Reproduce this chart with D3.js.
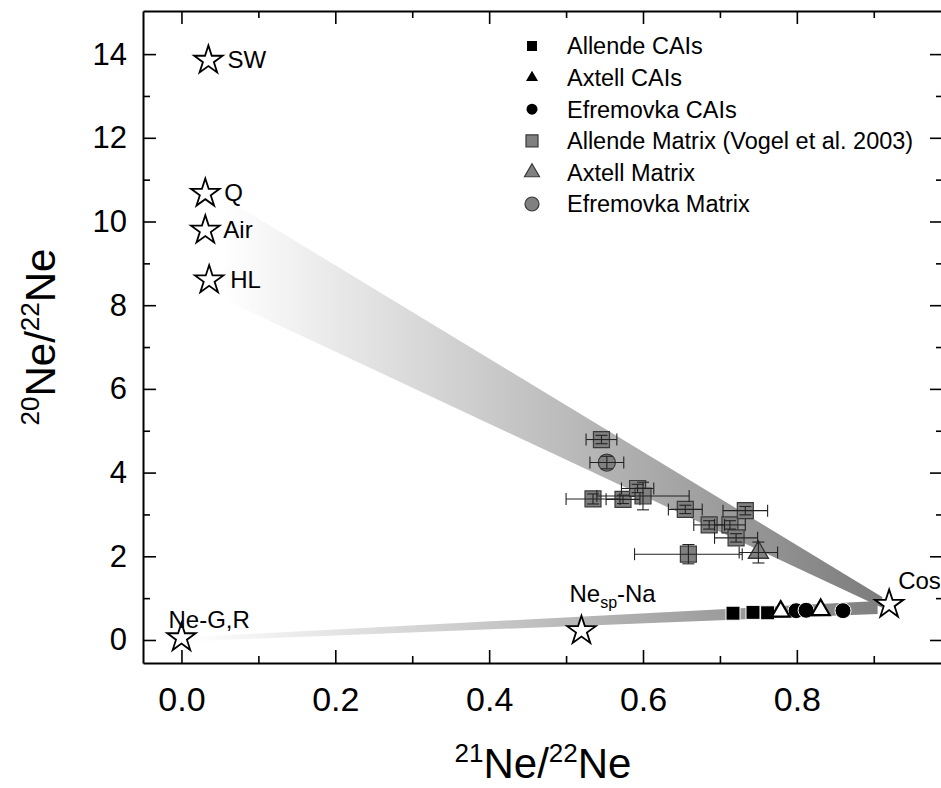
<!DOCTYPE html>
<html>
<head>
<meta charset="utf-8">
<script src="https://cdn.jsdelivr.net/npm/d3@7"></script>
<style>
  body { margin: 0; background: #fff; }
  text { font-family: "Liberation Sans", Arial, sans-serif; fill: #000; }
  .narrow { font-family: "Liberation Sans Narrow", "Arial Narrow", "Liberation Sans", sans-serif; }
</style>
</head>
<body>
<div id="chart"></div>
<script>
// end-member components (open stars)
const starNames = ["SW", "Q", "Air", "HL", "Ne-G,R", "Nesp-Na", "Cosmogenic"];
const starX = [0.035, 0.031, 0.031, 0.036, 0.0, 0.520, 0.920];
const starY = [13.85, 10.67, 9.79, 8.60, 0.05, 0.22, 0.85];

// mixing bands: [x, yTop, yBottom] at left and right ends
const wedgeX = [0.055, 0.911];
const wedgeTop = [10.57, 1.03];
const wedgeBottom = [8.14, 0.77];
const lineX = [0.01, 0.905];
const lineTop = [0.07, 0.93];
const lineBottom = [-0.03, 0.62];

// CAIs (black symbols)
const allendeCaiX = [0.717, 0.743, 0.762];
const allendeCaiY = [0.64, 0.66, 0.65];
const axtellCaiX = [0.779, 0.831];
const axtellCaiY = [0.68, 0.72];
const efremovkaCaiX = [0.799, 0.812, 0.860];
const efremovkaCaiY = [0.70, 0.71, 0.70];

// matrix samples (grey symbols) with errors
const allendeMatX  = [0.546, 0.535, 0.574, 0.593, 0.600, 0.655, 0.686, 0.713, 0.733, 0.721, 0.659];
const allendeMatY  = [4.79, 3.37, 3.36, 3.62, 3.44, 3.12, 2.75, 2.75, 3.09, 2.44, 2.05];
const allendeMatXe = [0.020, 0.035, 0.022, 0.021, 0.060, 0.022, 0.020, 0.020, 0.029, 0.028, 0.070];
const allendeMatYe = [0.10, 0.12, 0.10, 0.10, 0.33, 0.10, 0.10, 0.10, 0.10, 0.10, 0.23];
const axtellMatX = [0.750], axtellMatY = [2.09], axtellMatXe = [0.025], axtellMatYe = [0.25];
const efremovkaMatX = [0.553], efremovkaMatY = [4.24], efremovkaMatXe = [0.022], efremovkaMatYe = [0.15];

const legendLabels = ["Allende CAIs", "Axtell CAIs", "Efremovka CAIs",
  "Allende Matrix (Vogel et al. 2003)", "Axtell Matrix", "Efremovka Matrix"];

const xMajor = [0, 0.2, 0.4, 0.6, 0.8];
const xMinor = [0.1, 0.3, 0.5, 0.7, 0.9];
const yMajor = [0, 2, 4, 6, 8, 10, 12, 14];
const yMinor = [1, 3, 5, 7, 9, 11, 13];

const width = 941, height = 788;
const pLeft = 143, pRight = 943, pTop = 11, pBottom = 663;

const svg = d3.select("#chart").append("svg")
  .attr("width", width).attr("height", height);

const x = d3.scaleLinear().domain([-0.05, 0.99]).range([pLeft, pRight]);
const y = d3.scaleLinear().domain([-0.55, 15.03]).range([pBottom, pTop]);

const defs = svg.append("defs");
function grad(id, x0, x1, end) {
  const g = defs.append("linearGradient").attr("id", id)
    .attr("gradientUnits", "userSpaceOnUse")
    .attr("x1", x(x0)).attr("x2", x(x1)).attr("y1", 0).attr("y2", 0);
  g.append("stop").attr("offset", 0).attr("stop-color", "#ffffff");
  g.append("stop").attr("offset", 1).attr("stop-color", end);
}
grad("wedgeGrad", wedgeX[0], wedgeX[1], "#7c7c7c");
grad("lineGrad", lineX[0], lineX[1], "#808080");

function band(xs, tops, bots, fill) {
  const pts = [[xs[0], tops[0]], [xs[1], tops[1]], [xs[1], bots[1]], [xs[0], bots[0]]];
  svg.append("path")
    .attr("d", d3.line().x(d => x(d[0])).y(d => y(d[1]))(pts) + "Z")
    .attr("fill", fill);
}
band(wedgeX, wedgeTop, wedgeBottom, "url(#wedgeGrad)");
band(lineX, lineTop, lineBottom, "url(#lineGrad)");

// axes (ticks pointing inwards, mirrored on top / right)
function styleAxis(g) {
  g.selectAll("path.domain").attr("stroke", "#000").attr("stroke-width", 2);
  g.selectAll(".tick line").attr("stroke", "#000").attr("stroke-width", 1.6);
}
const bottomAx = svg.append("g").attr("transform", `translate(0,${pBottom})`)
  .call(d3.axisBottom(x).tickValues(xMajor).tickSize(-13).tickSizeOuter(0)
    .tickPadding(24).tickFormat(d3.format(".1f")));
bottomAx.selectAll("text").attr("class", "narrow").attr("font-size", 34);
svg.append("g").attr("transform", `translate(0,${pBottom})`)
  .call(d3.axisBottom(x).tickValues(xMinor).tickSize(-7).tickFormat(""))
  .call(g => g.select(".domain").remove()).call(styleAxis);
styleAxis(bottomAx);

const leftAx = svg.append("g").attr("transform", `translate(${pLeft},0)`)
  .call(d3.axisLeft(y).tickValues(yMajor).tickSize(-13).tickSizeOuter(0).tickPadding(16));
leftAx.selectAll("text").attr("font-size", 31);
svg.append("g").attr("transform", `translate(${pLeft},0)`)
  .call(d3.axisLeft(y).tickValues(yMinor).tickSize(-7).tickFormat(""))
  .call(g => g.select(".domain").remove()).call(styleAxis);
styleAxis(leftAx);

const topAx = svg.append("g").attr("transform", `translate(0,${pTop})`)
  .call(d3.axisTop(x).tickValues(xMajor).tickSize(-13).tickSizeOuter(0).tickFormat(""));
svg.append("g").attr("transform", `translate(0,${pTop})`)
  .call(d3.axisTop(x).tickValues(xMinor).tickSize(-7).tickFormat(""))
  .call(g => g.select(".domain").remove()).call(styleAxis);
styleAxis(topAx);

const rightAx = svg.append("g").attr("transform", `translate(${pRight},0)`)
  .call(d3.axisRight(y).tickValues(yMajor).tickSize(-13).tickSizeOuter(0).tickFormat(""));
svg.append("g").attr("transform", `translate(${pRight},0)`)
  .call(d3.axisRight(y).tickValues(yMinor).tickSize(-7).tickFormat(""))
  .call(g => g.select(".domain").remove()).call(styleAxis);
styleAxis(rightAx);

// axis titles
const xt = svg.append("text").attr("class", "narrow").attr("font-size", 42)
  .attr("text-anchor", "middle").attr("x", (pLeft + pRight) / 2).attr("y", 778);
xt.append("tspan").attr("font-size", 26).attr("dy", -16).text("21");
xt.append("tspan").attr("dy", 16).text("Ne/");
xt.append("tspan").attr("font-size", 26).attr("dy", -16).text("22");
xt.append("tspan").attr("dy", 16).text("Ne");

const yt = svg.append("text").attr("class", "narrow").attr("font-size", 42)
  .attr("text-anchor", "middle")
  .attr("transform", `translate(55,${(pTop + pBottom) / 2}) rotate(-90)`);
yt.append("tspan").attr("font-size", 26).attr("dy", -16).text("20");
yt.append("tspan").attr("dy", 16).text("Ne/");
yt.append("tspan").attr("font-size", 26).attr("dy", -16).text("22");
yt.append("tspan").attr("dy", 16).text("Ne");

// markers
const sq = s => d3.symbol(d3.symbolSquare, s * s)();
const tri = s => d3.symbol(d3.symbolTriangle, s * s * Math.sqrt(3) / 4)();
const circ = s => d3.symbol(d3.symbolCircle, Math.PI * s * s / 4)();

function errorBars(xs, ys, xe, ye) {
  const g = svg.append("g").attr("stroke", "#222").attr("stroke-width", 1.1);
  xs.forEach((v, i) => {
    const cx = x(v), cy = y(ys[i]);
    const x0 = x(v - xe[i]), x1 = x(v + xe[i]);
    const y0 = y(ys[i] - ye[i]), y1 = y(ys[i] + ye[i]);
    g.append("line").attr("x1", x0).attr("x2", x1).attr("y1", cy).attr("y2", cy);
    g.append("line").attr("x1", x0).attr("x2", x0).attr("y1", cy - 6).attr("y2", cy + 6);
    g.append("line").attr("x1", x1).attr("x2", x1).attr("y1", cy - 6).attr("y2", cy + 6);
    g.append("line").attr("x1", cx).attr("x2", cx).attr("y1", y0).attr("y2", y1);
    g.append("line").attr("x1", cx - 6).attr("x2", cx + 6).attr("y1", y0).attr("y2", y0);
    g.append("line").attr("x1", cx - 6).attr("x2", cx + 6).attr("y1", y1).attr("y2", y1);
  });
}
function points(xs, ys, path, fill, stroke, sw) {
  svg.append("g").selectAll("path").data(xs).join("path")
    .attr("d", path)
    .attr("transform", (d, i) => `translate(${x(d)},${y(ys[i])})`)
    .attr("fill", fill).attr("stroke", stroke).attr("stroke-width", sw);
}

const grey = "#808080", greyStroke = "#3a3a3a";
points(allendeMatX, allendeMatY, sq(16), grey, greyStroke, 1.2);
points(efremovkaMatX, efremovkaMatY, circ(17), grey, greyStroke, 1.2);
points(axtellMatX, axtellMatY, tri(20), grey, greyStroke, 1.4);
errorBars(allendeMatX, allendeMatY, allendeMatXe, allendeMatYe);
errorBars(efremovkaMatX, efremovkaMatY, efremovkaMatXe, efremovkaMatYe);
errorBars(axtellMatX, axtellMatY, axtellMatXe, axtellMatYe);

points(allendeCaiX, allendeCaiY, sq(14), "#000", "#fff", 1);
points(efremovkaCaiX, efremovkaCaiY, circ(16), "#000", "#fff", 1);
points(axtellCaiX, axtellCaiY, tri(18), "#fff", "#000", 2.2);

// end-member stars and labels
const starPath = d3.symbol(d3.symbolStar, 15 * 15 / 0.8908)();
svg.append("g").selectAll("path").data(starX).join("path")
  .attr("d", starPath)
  .attr("transform", (d, i) => `translate(${x(d)},${y(starY[i])})`)
  .attr("fill", "#fff").attr("stroke", "#000").attr("stroke-width", 1.8);

const labelOffset = {
  "SW": [19, 8], "Q": [19, 8], "Air": [18, 8], "HL": [21, 8],
  "Ne-G,R": [-13, -10], "Nesp-Na": [-12, -29], "Cosmogenic": [9, -15]
};
starNames.forEach((name, i) => {
  const [dx, dy] = labelOffset[name];
  const t = svg.append("text").attr("font-size", 24)
    .attr("x", x(starX[i]) + dx).attr("y", y(starY[i]) + dy);
  if (name === "Nesp-Na") {
    t.append("tspan").text("Ne");
    t.append("tspan").attr("font-size", 16).attr("dy", 6).text("sp");
    t.append("tspan").attr("dy", -6).text("-Na");
  } else {
    t.text(name);
  }
});

// legend
const legendSymbols = [
  [sq(10), "#000", "none", 0], [tri(12), "#000", "none", 0], [circ(11), "#000", "none", 0],
  [sq(12), grey, greyStroke, 1.2], [tri(15), grey, greyStroke, 1.2], [circ(14), grey, greyStroke, 1.2]
];
const legend = svg.append("g");
legendLabels.forEach((lab, i) => {
  const ly = 46 + i * 31.6;
  const [p, f, s, w] = legendSymbols[i];
  legend.append("path").attr("d", p).attr("transform", `translate(532,${ly})`)
    .attr("fill", f).attr("stroke", s).attr("stroke-width", w);
  legend.append("text").attr("x", 567).attr("y", ly).attr("dy", "0.36em")
    .attr("font-size", 23.5).text(lab);
});
</script>
</body>
</html>
